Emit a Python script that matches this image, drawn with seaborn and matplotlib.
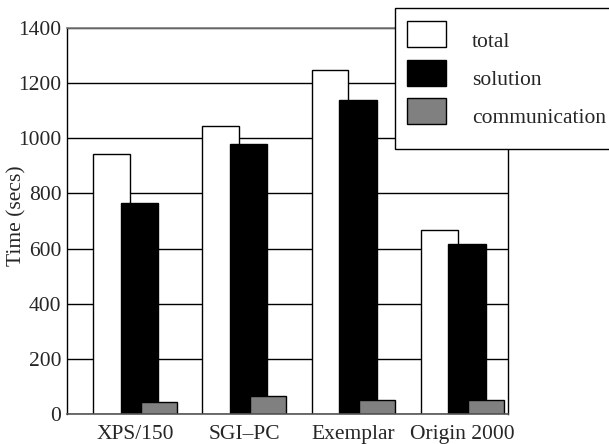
import numpy as np
import pandas as pd
import matplotlib
matplotlib.use("Agg")
import matplotlib.pyplot as plt
from matplotlib.patches import Rectangle
import seaborn as sns

# Per-machine timings (seconds)
machines = ["XPS/150", "SGI\u2013PC", "Exemplar", "Origin 2000"]
total = [942, 1045, 1248, 666]
solution = [765, 979, 1139, 617]
communication = [41, 64, 48, 48]

series_names = ["total", "solution", "communication"]
y_ticks = [0, 200, 400, 600, 800, 1000, 1200, 1400]

sns.set_style("white")
plt.rcParams["font.family"] = ["Liberation Serif", "DejaVu Serif"]

FS = 15.5
W, H = 609, 444

fig = plt.figure(figsize=(W / 100, H / 100), dpi=100)
ax = fig.add_axes([67 / W, 1 - 413.7 / H, 441 / W, 385.4 / H])

pos = np.arange(len(machines), dtype=float)
styles = {
    "total": dict(offset=-0.214, width=0.336, color="white"),
    "solution": dict(offset=0.041, width=0.344, color="black"),
    "communication": dict(offset=0.217, width=0.332, color="#808080"),
}
values = {"total": total, "solution": solution, "communication": communication}

for name in series_names:
    st = styles[name]
    df = pd.DataFrame({"x": pos + st["offset"], "time": values[name]})
    sns.barplot(data=df, x="x", y="time", native_scale=True, width=st["width"],
                color=st["color"], saturation=1, edgecolor="black", linewidth=1.0,
                errorbar=None, ax=ax, zorder=2)

ax.set_xlim(-0.623, 3.416)
ax.set_ylim(0, 1400)
ax.set_yticks(y_ticks)
ax.set_xticks(pos)
ax.set_xticklabels(machines)
ax.yaxis.grid(True, color="black", linewidth=1.0)
ax.xaxis.grid(False)
ax.set_axisbelow(True)
ax.tick_params(axis="both", length=0, labelsize=FS)
ax.tick_params(axis="y", pad=4)
ax.tick_params(axis="x", pad=8)
ax.set_xlabel("")
ax.set_ylabel("Time (secs)", fontsize=FS)
ax.yaxis.set_label_coords(-0.093, 0.513)

for side in ["left", "right"]:
    ax.spines[side].set_color("black")
    ax.spines[side].set_linewidth(1.0)
ax.spines["top"].set_color("#7a7a7a")
ax.spines["top"].set_linewidth(1.2)
ax.spines["bottom"].set_color("#555555")
ax.spines["bottom"].set_linewidth(1.2)


def fig_box(x0, top, w, h):
    """Rectangle given in figure pixels measured from the top-left corner."""
    return (x0 / W, 1 - (top + h) / H), w / W, h / H


# Legend: framed box with swatches and labels
xy, bw, bh = fig_box(395, 8, 220, 141)
fig.add_artist(Rectangle(xy, bw, bh, transform=fig.transFigure, facecolor="white",
                         edgecolor="black", linewidth=1.0, zorder=3))
for i, name in enumerate(series_names):
    top = 21.5 + 38.1 * i
    xy, sw, sh = fig_box(407, top, 39, 26)
    fig.add_artist(Rectangle(xy, sw, sh, transform=fig.transFigure,
                             facecolor=styles[name]["color"], edgecolor="black",
                             linewidth=1.0, zorder=4))
    fig.text(472 / W, 1 - (top + 25.5) / H, name, fontsize=FS,
             ha="left", va="baseline", zorder=5)

fig.savefig("out.png", dpi=100)
